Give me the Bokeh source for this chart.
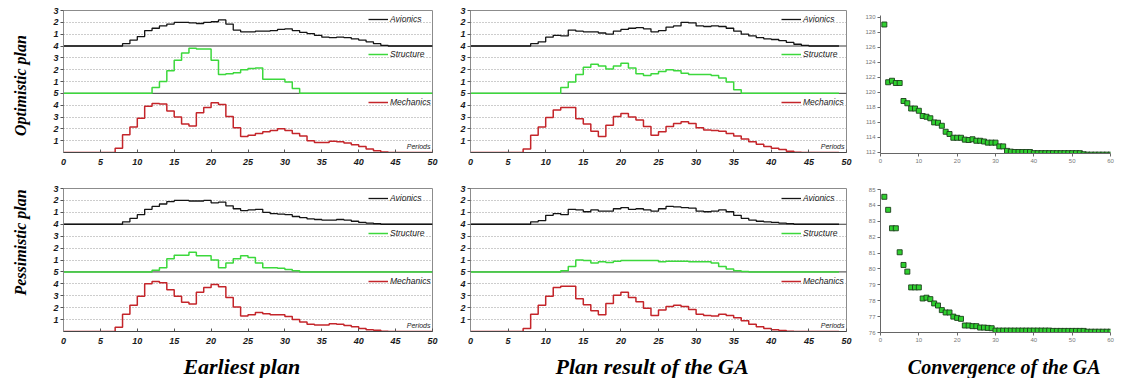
import numpy as np
from bokeh.plotting import figure
from bokeh.layouts import row, column
from bokeh.models import (Range1d, FixedTicker, Span, Legend, LegendItem, Label,
                          SingleIntervalTicker)
from bokeh.embed import file_html
from bokeh.resources import INLINE
from bokeh.core.properties import value

# ---------------- data ----------------
periods_earliest = list(range(51))
periods_ga = list(range(50))

opt_earliest_avionics = [0, 0, 0, 0, 0, 0, 0, 0, 0.2, 0.5, 0.8, 1.3, 1.5, 1.7, 1.85, 2.0, 2.0, 1.95, 1.9, 2.0,
                         2.05, 2.2, 1.85, 1.35, 1.2, 1.2, 1.25, 1.25, 1.3, 1.4, 1.45, 1.3, 1.15, 1.05, 0.9, 0.75,
                         0.7, 0.75, 0.7, 0.6, 0.5, 0.35, 0.2, 0.05, 0, 0, 0, 0, 0, 0, 0]
opt_earliest_structure = [0, 0, 0, 0, 0, 0, 0, 0, 0, 0, 0, 0, 0.5, 1.0, 1.9, 2.8, 3.4, 3.8, 3.75, 3.75,
                          2.8, 1.6, 1.65, 1.75, 2.0, 2.1, 2.15, 1.2, 1.2, 1.2, 0.95, 0.4, 0, 0, 0, 0,
                          0, 0, 0, 0, 0, 0, 0, 0, 0, 0, 0, 0, 0, 0, 0]
opt_earliest_mechanics = [0, 0, 0, 0, 0, 0, 0, 0.35, 1.5, 2.15, 2.9, 3.9, 4.15, 4.1, 3.5, 3.0, 2.4, 2.25, 3.35, 3.8,
                          4.2, 4.05, 3.05, 2.1, 1.35, 1.45, 1.6, 1.75, 1.85, 2.0, 1.85, 1.6, 1.4, 1.0, 0.85, 0.85,
                          0.95, 0.9, 0.8, 0.65, 0.5, 0.3, 0.15, 0.05, 0, 0, 0, 0, 0, 0, 0]

opt_ga_avionics = [0, 0, 0, 0, 0, 0, 0, 0, 0.2, 0.35, 0.75, 0.9, 0.85, 1.35, 1.25, 1.2, 1.2, 1.1, 1.0, 1.25,
                   1.4, 1.5, 1.55, 1.45, 1.2, 1.3, 1.6, 1.7, 2.0, 1.95, 1.7, 1.65, 1.7, 1.65, 1.5, 1.25,
                   1.0, 0.85, 0.7, 0.6, 0.55, 0.45, 0.3, 0.15, 0.05, 0, 0, 0, 0, 0]
opt_ga_structure = [0, 0, 0, 0, 0, 0, 0, 0, 0, 0, 0, 0, 0.5, 0.95, 1.6, 2.2, 2.45, 2.3, 2.05, 2.3,
                    2.55, 2.15, 1.65, 1.5, 1.65, 1.85, 2.0, 1.9, 1.7, 1.6, 1.6, 1.6, 1.5, 1.3, 0.95, 0.3,
                    0, 0, 0, 0, 0, 0, 0, 0, 0, 0, 0, 0, 0, 0]
opt_ga_mechanics = [0, 0, 0, 0, 0, 0, 0, 0.3, 1.45, 2.15, 2.95, 3.6, 3.8, 3.8, 2.85, 2.4, 1.8, 1.35, 2.3, 3.05,
                    3.3, 3.0, 2.75, 2.2, 1.45, 1.75, 2.2, 2.45, 2.6, 2.45, 2.1, 1.9, 1.85, 1.8, 1.6, 1.4,
                    1.15, 0.9, 0.7, 0.5, 0.35, 0.25, 0.1, 0.02, 0, 0, 0, 0, 0, 0]

pes_earliest_avionics = [0, 0, 0, 0, 0, 0, 0, 0, 0.2, 0.5, 0.8, 1.25, 1.5, 1.7, 1.9, 2.0, 2.0, 1.95, 1.95, 2.0,
                         1.8, 1.85, 1.55, 1.3, 1.15, 1.2, 1.25, 1.0, 0.9, 0.85, 0.8, 0.65, 0.55, 0.45, 0.4, 0.35,
                         0.35, 0.4, 0.35, 0.25, 0.15, 0.1, 0.05, 0, 0, 0, 0, 0, 0, 0, 0]
pes_earliest_structure = [0, 0, 0, 0, 0, 0, 0, 0, 0, 0, 0, 0, 0.15, 0.35, 1.1, 1.4, 1.4, 1.65, 1.35, 1.35,
                          1.0, 0.35, 0.75, 1.1, 1.35, 1.2, 0.75, 0.35, 0.35, 0.3, 0.2, 0.1, 0, 0, 0, 0,
                          0, 0, 0, 0, 0, 0, 0, 0, 0, 0, 0, 0, 0, 0, 0]
pes_earliest_mechanics = [0, 0, 0, 0, 0, 0, 0, 0.35, 1.45, 2.2, 2.95, 4.0, 4.2, 4.1, 3.5, 2.95, 2.45, 2.3, 3.3, 3.7,
                          3.95, 3.75, 2.85, 2.05, 1.3, 1.4, 1.6, 1.5, 1.4, 1.4, 1.25, 1.0, 0.8, 0.6, 0.55, 0.55,
                          0.65, 0.6, 0.5, 0.4, 0.25, 0.15, 0.1, 0.03, 0, 0, 0, 0, 0, 0, 0]

pes_ga_avionics = [0, 0, 0, 0, 0, 0, 0, 0, 0.2, 0.3, 0.75, 0.9, 0.8, 1.25, 1.2, 1.05, 1.2, 1.1, 1.1, 1.3,
                   1.4, 1.25, 1.3, 1.2, 1.1, 1.3, 1.5, 1.45, 1.4, 1.35, 1.1, 1.05, 1.1, 1.2, 1.05, 0.75,
                   0.5, 0.35, 0.25, 0.2, 0.15, 0.1, 0.05, 0, 0, 0, 0, 0, 0, 0]
pes_ga_structure = [0, 0, 0, 0, 0, 0, 0, 0, 0, 0, 0, 0, 0.1, 0.45, 1.0, 0.95, 0.75, 0.85, 0.8, 0.9,
                    0.95, 0.95, 0.95, 0.95, 0.95, 0.85, 0.9, 0.9, 0.9, 0.85, 0.85, 0.85, 0.75, 0.45, 0.25, 0.1,
                    0.03, 0, 0, 0, 0, 0, 0, 0, 0, 0, 0, 0, 0, 0]
pes_ga_mechanics = [0, 0, 0, 0, 0, 0, 0, 0.25, 1.45, 2.2, 2.95, 3.7, 3.8, 3.8, 2.75, 2.25, 1.75, 1.4, 2.35, 3.05,
                    3.3, 2.85, 2.5, 1.95, 1.35, 1.8, 2.1, 2.2, 2.1, 1.85, 1.45, 1.35, 1.3, 1.45, 1.35, 1.15,
                    0.9, 0.6, 0.4, 0.25, 0.15, 0.08, 0.03, 0, 0, 0, 0, 0, 0, 0]

generations = list(range(1, 61))
conv_optimistic = [129.0, 121.3, 121.5, 121.2, 121.2, 118.8, 118.5, 117.8, 117.8, 117.5,
                   116.8, 116.7, 116.5, 115.95, 115.9, 115.5, 114.7, 114.4, 113.9, 113.9,
                   113.9, 113.65, 113.6, 113.7, 113.5, 113.5, 113.4, 113.25, 113.25, 113.25,
                   112.75, 112.75, 112.15, 112.05, 112.0, 112.0, 112.0, 112.0, 112.0, 111.85,
                   111.85, 111.85, 111.85, 111.85, 111.85, 111.85, 111.85, 111.85, 111.85, 111.85,
                   111.85, 111.85, 111.7, 111.65, 111.65, 111.65, 111.65, 111.65, 111.65, 111.65]
conv_pessimistic = [84.54, 83.72, 82.56, 82.56, 81.05, 80.25, 79.83, 78.84, 78.84, 78.84,
                    78.14, 78.19, 78.1, 77.83, 77.7, 77.41, 77.26, 77.26, 77.0, 76.92,
                    76.86, 76.44, 76.44, 76.4, 76.4, 76.31, 76.31, 76.29, 76.27, 76.12,
                    76.12, 76.12, 76.12, 76.12, 76.12, 76.12, 76.12, 76.12, 76.12, 76.12,
                    76.12, 76.12, 76.12, 76.12, 76.1, 76.1, 76.1, 76.1, 76.1, 76.1,
                    76.1, 76.1, 76.1, 76.05, 76.05, 76.05, 76.05, 76.05, 76.05, 76.05]

series_names = ["Avionics", "Structure", "Mechanics"]
row_labels = ["Optimistic plan", "Pessimistic plan"]
column_titles = ["Earliest plan", "Plan result of the GA", "Convergence of the GA"]

# ---------------- style ----------------
BLACK = "#141414"
GREEN = "#3cd83c"
RED = "#c4252a"
SQ_FILL = "#2fd02f"
SQ_EDGE = "#1c401c"
SANS = "Liberation Sans"
SERIF = "Liberation Serif"

# band offsets in the stacked panel: mechanics 0-5, structure 5-9, avionics 9-12
OFF_MECH, OFF_STRUCT, OFF_AVI = 0, 5, 9
y_ticks = [1, 2, 3, 4, 5, 6, 7, 8, 9, 10, 11, 12]
y_tick_text = {1: "1", 2: "2", 3: "3", 4: "4", 5: "5", 6: "1", 7: "2", 8: "3",
               9: "4", 10: "1", 11: "2", 12: "3"}


def stacked_panel(width, height, bl, br, bt, bb, periods, av, st, me, leg_x):
    p = figure(width=width, height=height, x_range=Range1d(0, 50), y_range=Range1d(0, 12),
               output_backend="svg", toolbar_location=None,
               min_border_left=bl, min_border_right=br, min_border_top=bt, min_border_bottom=bb)
    p.outline_line_color = "#8c8c8c"
    p.xgrid.visible = False
    p.ygrid.ticker = FixedTicker(ticks=[1, 2, 3, 4, 6, 7, 8, 10, 11])
    p.ygrid.grid_line_color = "#9a9a9a"
    p.ygrid.grid_line_dash = "1 2"
    p.yaxis.ticker = FixedTicker(ticks=y_ticks)
    p.yaxis.major_label_overrides = y_tick_text
    p.xaxis.ticker = SingleIntervalTicker(interval=5)
    for ax in (p.xaxis[0], p.yaxis[0]):
        ax.major_label_text_font = SANS
        ax.major_label_text_font_style = "bold italic"
        ax.major_label_text_font_size = "9px"
        ax.major_label_text_color = "#1a1a1a"
        ax.minor_tick_line_color = None
        ax.major_label_standoff = 2
    p.yaxis.axis_line_color = "#8c8c8c"
    p.yaxis.major_tick_line_color = "#555555"
    p.yaxis.major_tick_in = 0
    p.yaxis.major_tick_out = 3
    p.xaxis.axis_line_color = "#444444"
    p.xaxis.major_tick_line_color = "#555555"
    p.xaxis.major_tick_in = 3
    p.xaxis.major_tick_out = 0

    for loc in (OFF_STRUCT, OFF_AVI):
        p.add_layout(Span(location=loc, dimension="width", line_color="#3a3a3a",
                          line_width=1, level="underlay"))

    x = np.array(periods)
    r_me = p.step(x, np.array(me) + OFF_MECH, mode="after", line_color=RED, line_width=1.5)
    r_st = p.step(x, np.array(st) + OFF_STRUCT, mode="after", line_color=GREEN, line_width=1.5)
    r_av = p.step(x, np.array(av) + OFF_AVI, mode="after", line_color=BLACK, line_width=1.3)

    for name, r, ly in zip(series_names, [r_av, r_st, r_me], [128, 93, 45]):
        leg = Legend(items=[LegendItem(label=name, renderers=[r])], location=(leg_x, ly),
                     glyph_width=20, glyph_height=10, label_height=10, label_width=10,
                     padding=0, margin=0, spacing=0, label_standoff=2,
                     background_fill_alpha=0, border_line_alpha=0,
                     label_text_font=SANS, label_text_font_style="italic",
                     label_text_font_size="8.5px", label_text_color="#1a1a1a")
        p.add_layout(leg)
    p.add_layout(Label(x=50, y=0, x_offset=-2, y_offset=3, text="Periods",
                       text_align="right", text_font=SANS, text_font_style="italic",
                       text_font_size="7px", text_color="#1a1a1a"))
    return p


def convergence_panel(width, height, bl, br, bt, bb, ylo, yhi, yint, vals):
    p = figure(width=width, height=height, x_range=Range1d(0, 60), y_range=Range1d(ylo, yhi),
               output_backend="svg", toolbar_location=None,
               min_border_left=bl, min_border_right=br, min_border_top=bt, min_border_bottom=bb)
    p.outline_line_color = None
    p.grid.visible = False
    p.xaxis.ticker = SingleIntervalTicker(interval=10)
    p.yaxis.ticker = SingleIntervalTicker(interval=yint)
    for ax in (p.xaxis[0], p.yaxis[0]):
        ax.major_label_text_font = SANS
        ax.major_label_text_font_size = "6px"
        ax.major_label_text_color = "#777777"
        ax.axis_line_color = "#666666"
        ax.major_tick_line_color = "#666666"
        ax.minor_tick_line_color = None
        ax.major_tick_in = 0
        ax.major_tick_out = 3
        ax.major_label_standoff = 1
    p.scatter(generations, vals, marker="square", size=5, fill_color=SQ_FILL,
              line_color=SQ_EDGE, line_width=0.9)
    return p


def text_fig(width, height, xs, ys, texts, size, angle=0.0):
    t = figure(width=width, height=height, x_range=Range1d(0, width), y_range=Range1d(0, height),
               x_axis_type=None, y_axis_type=None, output_backend="svg", toolbar_location=None,
               min_border=0)
    t.outline_line_color = None
    t.grid.visible = False
    t.text(x=xs, y=ys, text=texts, angle=angle, text_align="center", text_baseline="middle",
           text_font=value(SERIF), text_font_style="bold italic", text_font_size=size,
           text_color="#000000")
    return t


# column 1: earliest plan
f11 = stacked_panel(414, 172, 25, 20, 10, 20, periods_earliest,
                    opt_earliest_avionics, opt_earliest_structure, opt_earliest_mechanics, 305)
f21 = stacked_panel(414, 174, 25, 20, 16, 14, periods_earliest,
                    pes_earliest_avionics, pes_earliest_structure, pes_earliest_mechanics, 305)
t1 = text_fig(414, 32, [200], [12], [column_titles[0]], "22px")

# column 2: plan result of the GA
f12 = stacked_panel(410, 172, 18, 16, 10, 20, periods_ga,
                    opt_ga_avionics, opt_ga_structure, opt_ga_mechanics, 311)
f22 = stacked_panel(410, 174, 18, 16, 16, 14, periods_ga,
                    pes_ga_avionics, pes_ga_structure, pes_ga_mechanics, 311)
t2 = text_fig(410, 32, [198], [12], [column_titles[1]], "22px")

# column 3: convergence
f13 = convergence_panel(264, 172, 16, 16, 15, 19, 111.8, 130.2, 2, conv_optimistic)
f23 = convergence_panel(264, 174, 16, 16, 17, 14, 76, 85, 1, conv_pessimistic)
t3 = text_fig(264, 32, [142], [12], [column_titles[2]], "20px")

# row labels
lab = text_fig(38, 378, [20, 20], [293, 136], row_labels, "16px", angle=np.pi / 2)

layout = row(lab, column(f11, f21, t1), column(f12, f22, t2), column(f13, f23, t3))

open("out.html", "w").write(file_html(layout, INLINE))
